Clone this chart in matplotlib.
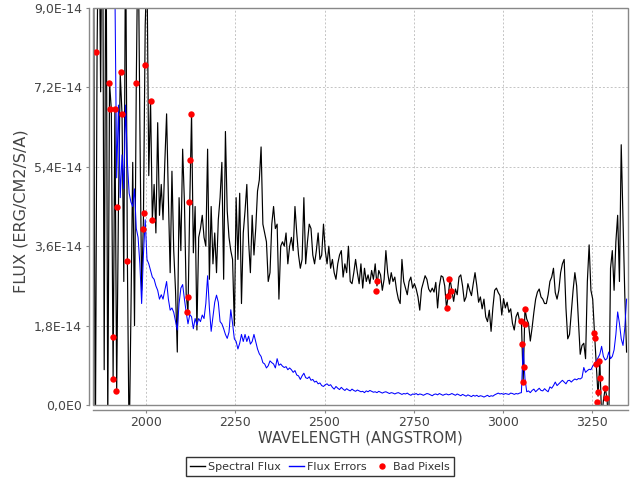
import numpy as np
import matplotlib
matplotlib.use("Agg")
import matplotlib.pyplot as plt
from matplotlib.patches import Rectangle
from matplotlib.lines import Line2D

# ---------------- data (flux in units of 1e-14 erg/cm2/s/A) ----------------
FLUX_UNIT = 1e-14
wave_start = 1852.0   # Angstrom
wave_step = 5.0       # Angstrom per sample

spectral_flux = [
    11.0, -1.5, 8.0, 12.0, 7.1, 13.0, 0.8, 12.0, -0.5, 7.3,
    6.7, 0.6, 6.7, 0.3, 4.5, 7.5, 6.6, 2.8, 11.0, 3.3,
    -1.0, 2.1, 5.5, 1.8, 7.3, 11.0, 6.4, 2.6, 4.2, 8.6,
    10.0, 5.2, 6.9, 4.2, 5.0, 3.9, 6.4, 4.3, 5.0, 4.2,
    5.5, 6.6, 4.7, 3.0, 5.3, 3.5, 2.6, 1.2, 4.7, 3.5,
    5.8, 4.6, 2.5, 2.1, 4.6, 6.6, 3.45, 4.5, 1.7, 3.8,
    4.0, 4.3, 3.8, 3.6, 5.8, 2.85, 4.5, 3.2, 3.9, 3.0,
    4.2, 4.7, 5.5, 2.85, 6.2, 4.4, 3.8, 3.5, 3.3, 1.8,
    4.7, 3.3, 4.8, 2.3, 3.9, 4.4, 5.0, 3.7, 3.0, 4.3,
    3.4, 4.0, 4.85, 5.1, 5.85, 4.1, 3.9, 3.7, 2.8, 3.0,
    4.1, 4.5, 4.0, 4.1, 2.4, 3.6, 3.7, 3.6, 3.9, 3.2,
    3.6, 3.8, 3.5, 4.5, 3.9, 3.4, 3.1, 3.3, 4.7, 3.2,
    3.7, 4.1, 4.0, 3.4, 3.2, 3.5, 3.9, 3.3, 3.4, 4.1,
    3.5, 3.2, 3.6, 3.1, 3.3, 3.0, 2.85, 3.2, 3.4, 3.5,
    2.9, 3.2, 3.0, 3.6, 2.8, 2.75, 3.0, 3.3, 3.0, 2.75,
    3.2, 2.65, 3.1, 2.8, 2.95, 2.75, 3.05, 2.85, 3.2, 2.7,
    3.05, 2.95, 2.6, 2.85, 3.5, 3.0, 2.74, 3.0, 2.8, 2.9,
    2.6, 2.4, 2.3, 3.3, 2.8, 2.65, 2.5, 2.8, 2.9, 2.65,
    2.75, 2.63, 2.45, 2.15, 2.63, 2.78, 2.93, 2.85, 2.63, 2.56,
    2.65, 2.56, 2.78, 2.2, 2.7, 2.93, 2.9, 2.7, 2.2, 2.5,
    2.85, 2.6, 2.35, 2.63, 2.5, 2.9, 2.95, 2.7, 2.35, 2.45,
    2.75, 2.6, 2.48, 2.75, 3.0, 2.7, 2.33, 2.45, 2.18, 2.4,
    2.0, 1.89, 2.15, 1.67, 2.2, 2.6, 2.65, 2.55, 2.48, 2.04,
    2.41, 2.2, 2.33, 2.1, 2.18, 1.85, 1.7, 2.0, 2.1, 1.9,
    1.91, 0.53, 2.18, 1.95, 1.85, 1.45, 1.75, 2.1, 2.4, 2.56,
    2.63, 2.45, 2.4, 2.3, 2.3, 2.5, 2.8, 2.9, 3.1, 2.55,
    2.4, 2.6, 3.0, 3.2, 3.3, 2.2, 1.5, 1.6, 2.1, 2.6,
    3.0, 2.7, 1.9, 1.15, 1.35, 1.4, 1.05, 2.8, 3.63, 2.6,
    2.4, 1.64, 0.93, 0.2, 1.0, -0.3, 0.1, 0.38, 0.16, -0.5,
    3.1, 3.5, 2.6, 3.7, 4.3, 2.8, 5.9, 4.2, 2.5, 1.2,
]

flux_errors = [
    12.0, 11.0, 13.0, 12.5, 11.5, 12.0, 13.5, 12.0, 11.0, 12.5,
    11.5, 10.5, 9.5, 5.15, 6.8, 4.7, 5.67, 4.9, 6.8, 5.5,
    4.8, 4.6, 4.5, 4.9, 4.0, 3.8, 3.2, 2.3, 3.4, 4.2,
    3.3, 3.2, 3.05, 2.9,
    2.85, 2.7, 2.6, 2.4, 2.5, 2.4, 2.6, 2.8, 2.4, 2.15,
    2.2, 2.1, 1.9, 1.7, 2.3, 2.65, 2.73, 2.4,
    2.1, 1.84, 2.05, 2.0, 1.73, 1.96, 1.82, 1.96, 1.89, 2.04,
    1.96, 2.3, 2.93, 2.2, 1.67, 2.0, 2.33, 2.49, 2.33, 1.89,
    1.84, 1.73, 1.6, 1.51, 1.65, 2.16, 1.85, 1.5, 1.44, 1.27,
    1.4, 1.6, 1.44, 1.6, 1.44, 1.56, 1.38, 1.44, 1.6, 1.44,
    1.27, 1.16, 1.1, 0.96, 0.93, 0.84, 0.89, 1.0, 0.96, 0.93,
    0.84,
    1.05, 0.9, 0.93, 0.88, 0.85, 0.87, 0.8, 0.84, 0.8, 0.74,
    0.78, 0.68, 0.66, 0.58, 0.66, 0.72, 0.62, 0.6, 0.64, 0.56,
    0.58, 0.52, 0.54, 0.48, 0.5, 0.44, 0.42, 0.46, 0.48, 0.44,
    0.46, 0.4, 0.36, 0.42, 0.38, 0.35, 0.4, 0.36, 0.33, 0.37,
    0.34, 0.32, 0.36, 0.33, 0.31, 0.34, 0.32, 0.3, 0.31, 0.28,
    0.32, 0.3, 0.33, 0.31, 0.29, 0.3, 0.28, 0.31, 0.29, 0.27,
    0.29, 0.3, 0.28, 0.26, 0.28, 0.27, 0.25, 0.27, 0.28, 0.26,
    0.24, 0.26, 0.25, 0.27, 0.24, 0.22, 0.25, 0.24, 0.26, 0.23,
    0.25, 0.24, 0.22, 0.24, 0.26, 0.25, 0.23, 0.21, 0.24, 0.25,
    0.23, 0.26, 0.24, 0.22, 0.24, 0.25, 0.23, 0.24, 0.26,
    0.24, 0.22, 0.25, 0.23, 0.21, 0.24, 0.22, 0.2, 0.23, 0.21,
    0.19, 0.22, 0.2, 0.22, 0.19, 0.21, 0.2, 0.18, 0.2, 0.22,
    0.19, 0.21, 0.2, 0.23, 0.25, 0.27, 0.25, 0.26, 0.24, 0.26,
    0.25, 0.24, 0.27, 0.26, 0.24, 0.26, 0.25, 0.27, 0.28,
    1.3, 0.6, 0.3, 0.32, 0.28, 0.33, 0.36, 0.3, 0.34, 0.38, 0.33,
    0.32, 0.37, 0.33, 0.3, 0.41, 0.38, 0.44, 0.52, 0.44, 0.48,
    0.52, 0.56, 0.52, 0.48, 0.55, 0.56, 0.52, 0.56, 0.59, 0.57,
    0.6, 0.59, 0.62, 0.85, 0.74, 0.78, 0.81, 0.8, 0.88, 0.93,
    1.0, 1.07, 1.15, 1.33, 1.1, 1.02, 1.05, 1.2, 1.05, 1.1,
    1.25, 1.6, 2.11, 1.85, 1.5, 1.35, 1.75, 2.4,
]

bad_wave = [1859.0, 1895.4, 1898.2, 1905.8, 1906.7, 1912.3, 1915.1, 1918.7, 1929.1, 1931.9,
            1945.9, 1971.1, 1990.7, 1993.5, 1996.3, 2013.2, 2016.0, 2114.1, 2116.9, 2119.7,
            2122.5, 2124.4, 2643.8, 2646.6, 2842.8, 2845.6, 2848.4, 2854.0, 3050.0, 3052.9,
            3055.7, 3058.5, 3061.3, 3061.3, 3254.7, 3257.5, 3260.3, 3263.1, 3265.9, 3268.7,
            3271.5, 3287.0, 3289.8]
bad_flux = [8.0, 7.3, 6.7, 0.58, 1.55, 6.7, 0.31, 4.5, 7.55, 6.6,
            3.27, 7.3, 4.0, 4.35, 7.7, 6.9, 4.2, 2.1, 2.45, 4.6,
            5.55, 6.6, 2.58, 2.82, 2.2, 2.47, 2.85, 2.58, 1.91, 1.38,
            0.53, 0.87, 2.18, 1.84, 1.64, 1.51, 0.93, 0.07, 0.29, 1.0,
            0.62, 0.38, 0.16]

x_ticks = [2000, 2250, 2500, 2750, 3000, 3250]
y_ticks = [0.0, 1.8, 3.6, 5.4, 7.2, 9.0]
y_tick_labels = ["0,0E0", "1,8E-14", "3,6E-14", "5,4E-14", "7,2E-14", "9,0E-14"]
x_range = (1850.6, 3351.0)
y_range = (0.0, 9.0)

assert len(spectral_flux) == len(flux_errors), (len(spectral_flux), len(flux_errors))
assert len(bad_wave) == len(bad_flux)

wave = wave_start + wave_step * np.arange(len(spectral_flux))
flux = np.array(spectral_flux) * FLUX_UNIT
err = np.array(flux_errors) * FLUX_UNIT
bw = np.array(bad_wave)
bf = np.array(bad_flux) * FLUX_UNIT

# ---------------- figure ----------------
plt.rcParams['font.family'] = ['DejaVu Sans']
fig = plt.figure(figsize=(6.4, 4.8), dpi=100)
W, H = 640, 480
L, R, T, B = 93, 628, 8, 405
ax = fig.add_axes([L / W, 1 - B / H, (R - L) / W, (B - T) / H])

text_col = '#444444'
axis_col = '#888888'

ax.plot(wave, flux, color='black', lw=0.85, zorder=3, label='Spectral Flux')
ax.plot(wave, err, color='#0000ff', lw=0.75, zorder=4, label='Flux Errors')
ax.plot(bw, bf, 'o', color='#ff0000', ms=4.6, mec='none', zorder=5, label='Bad Pixels')

ax.set_xlim(*x_range)
ax.set_ylim(y_range[0] * FLUX_UNIT, y_range[1] * FLUX_UNIT)
ax.set_xticks(x_ticks)
ax.set_xticklabels([str(v) for v in x_ticks])
ax.set_yticks([v * FLUX_UNIT for v in y_ticks])
ax.set_yticklabels(y_tick_labels)

ax.grid(True, color='#c4c4c4', lw=0.7, linestyle=(0, (2, 2)), zorder=1)
ax.set_axisbelow(True)

for s in ['top', 'right']:
    ax.spines[s].set_visible(False)
ax.spines['left'].set_position(('outward', 3))
ax.spines['bottom'].set_position(('outward', 3.3))
for s in ['left', 'bottom']:
    ax.spines[s].set_color(axis_col)
    ax.spines[s].set_linewidth(1.0)
ax.add_patch(Rectangle((0, 0), 1, 1, transform=ax.transAxes, fill=False,
                       edgecolor=axis_col, lw=1.0, zorder=6, clip_on=False))

ax.tick_params(axis='both', direction='out', length=2.4, width=0.8, color=axis_col,
               labelcolor=text_col, labelsize=9)
ax.tick_params(axis='y', pad=2.5)
ax.tick_params(axis='x', pad=2.5)

fig.text(360 / W, 1 - 438 / H, 'WAVELENGTH (ANGSTROM)', ha='center', va='center',
         fontsize=10.6, color=text_col)
fig.text(21 / W, 1 - 211 / H, 'FLUX (ERG/CM2/S/A)', ha='center', va='center',
         rotation=90, fontsize=11.5, color=text_col)

handles = [Line2D([], [], color='black', lw=1.0),
           Line2D([], [], color='#0000ff', lw=1.0),
           Line2D([], [], marker='o', ls='none', color='#ff0000', ms=4.6, mec='none')]
leg = fig.legend(handles, ['Spectral Flux', 'Flux Errors', 'Bad Pixels'],
                 loc='center', bbox_to_anchor=(320 / W, 1 - 466.5 / H), ncol=3,
                 frameon=True, fancybox=False, fontsize=8.0, handlelength=1.3,
                 handletextpad=0.3, columnspacing=0.75, borderpad=0.4,
                 borderaxespad=0.0)
leg.get_frame().set_edgecolor('black')
leg.get_frame().set_linewidth(1.0)
for t in leg.get_texts():
    t.set_color('#333333')

fig.savefig('out.png', dpi=100)
